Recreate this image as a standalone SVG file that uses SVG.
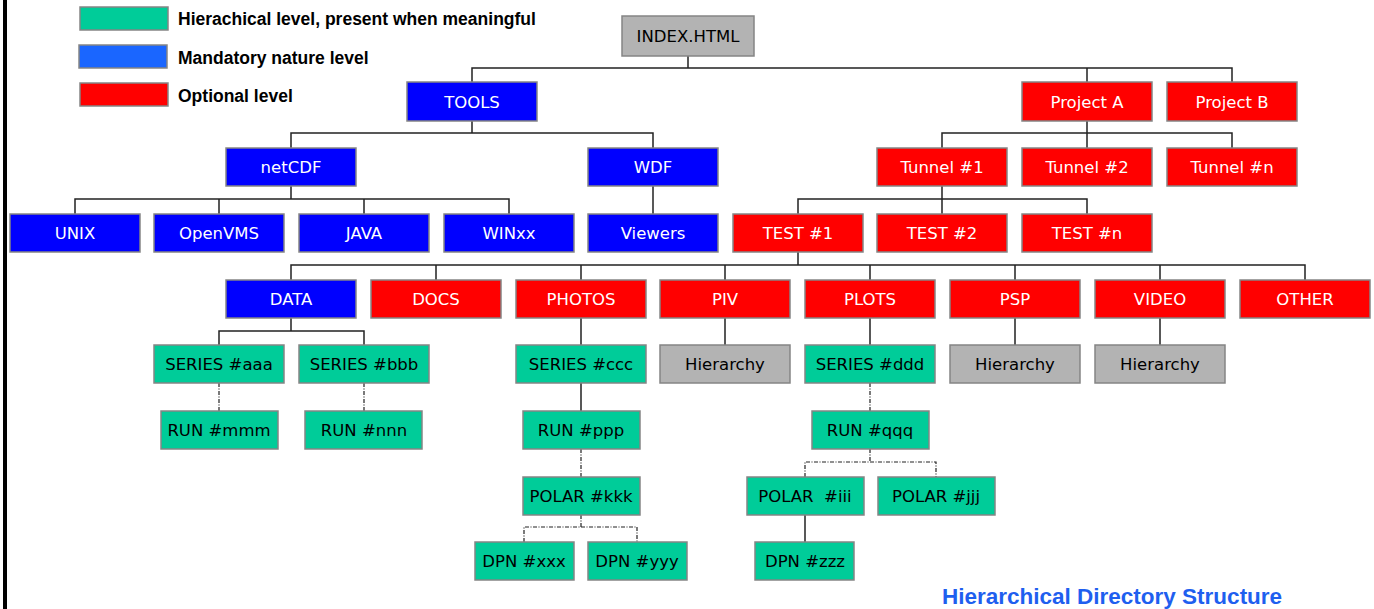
<svg xmlns="http://www.w3.org/2000/svg" width="1374" height="609" viewBox="0 0 1374 609">
<style>
.n rect{stroke:#858585;stroke-width:1.5}
.blue rect{fill:#0000FF}
.red rect{fill:#FF0000}
.green rect{fill:#00CC99}
.gray rect{fill:#B3B3B3}
.n text{font-family:"DejaVu Sans","Liberation Sans",sans-serif;font-size:16.5px;text-anchor:middle}
.blue text,.red text{fill:#FFFFFF}
.green text,.gray text{fill:#000000}
.leg{font-family:"Liberation Sans",Arial,sans-serif;font-weight:bold;font-size:17.5px;fill:#000}
#connectors path{fill:none;stroke:#222;stroke-width:1.5}
#connectors path.d{stroke-dasharray:4,1.5,1,1.5;stroke-width:1.2}
</style>
<rect x="3" y="0" width="4" height="609" fill="#000"/>
<g id="legend">
<rect x="80" y="7" width="88" height="23" fill="#00CC99" stroke="#858585" stroke-width="1.5"/>
<rect x="79" y="45" width="88" height="23" fill="#1A66FF" stroke="#858585" stroke-width="1.5"/>
<rect x="80" y="83" width="88" height="23" fill="#FF0000" stroke="#858585" stroke-width="1.5"/>
<text class="leg" x="178" y="25">Hierachical level, present when meaningful</text>
<text class="leg" x="178" y="64">Mandatory nature level</text>
<text class="leg" x="178" y="102">Optional level</text>
</g>
<g id="connectors">
<path d="M688 56V68M472 82V68H1232V82M1087 68V82"/>
<path d="M472 121V133M291 148V133H653V148"/>
<path d="M291 186V199M75 214V199H509V214M219 199V214M364 199V214"/>
<path d="M653 186V214"/>
<path d="M1087 121V133M942 148V133H1232V148M1087 133V148"/>
<path d="M942 186V199M798 214V199H1087V214M942 199V214"/>
<path d="M798 252V265M291 280V265H1305V280M436 265V280M581 265V280M725 265V280M870 265V280M1015 265V280M1160 265V280"/>
<path d="M291 318V331M219 345V331H364V345"/>
<path class="d" d="M219 383V411"/>
<path class="d" d="M364 383V411"/>
<path d="M581 318V345M581 383V411"/>
<path class="d" d="M581 449V477"/>
<path class="d" d="M581 515V527M524 542V527H637V542"/>
<path d="M725 318V345M870 318V345M1015 318V345M1160 318V345"/>
<path class="d" d="M870 383V411"/>
<path class="d" d="M870 449V462M805 477V462H936V477"/>
<path d="M805 515V542"/>
</g>
<g id="index" class="n gray"><rect x="622" y="16" width="132" height="40"/><text x="688" y="42">INDEX.HTML</text></g>
<g id="tools" class="n blue"><rect x="407" y="82" width="130" height="39"/><text x="472" y="108">TOOLS</text></g>
<g id="projectA" class="n red"><rect x="1022" y="82" width="130" height="39"/><text x="1087" y="108">Project A</text></g>
<g id="projectB" class="n red"><rect x="1167" y="82" width="130" height="39"/><text x="1232" y="108">Project B</text></g>
<g id="netcdf" class="n blue"><rect x="226" y="148" width="130" height="38"/><text x="291" y="173">netCDF</text></g>
<g id="wdf" class="n blue"><rect x="588" y="148" width="130" height="38"/><text x="653" y="173">WDF</text></g>
<g id="tunnel1" class="n red"><rect x="877" y="148" width="130" height="38"/><text x="942" y="173">Tunnel #1</text></g>
<g id="tunnel2" class="n red"><rect x="1022" y="148" width="130" height="38"/><text x="1087" y="173">Tunnel #2</text></g>
<g id="tunneln" class="n red"><rect x="1167" y="148" width="130" height="38"/><text x="1232" y="173">Tunnel #n</text></g>
<g id="unix" class="n blue"><rect x="10" y="214" width="130" height="38"/><text x="75" y="239">UNIX</text></g>
<g id="openvms" class="n blue"><rect x="154" y="214" width="130" height="38"/><text x="219" y="239">OpenVMS</text></g>
<g id="java" class="n blue"><rect x="299" y="214" width="130" height="38"/><text x="364" y="239">JAVA</text></g>
<g id="winxx" class="n blue"><rect x="444" y="214" width="130" height="38"/><text x="509" y="239">WINxx</text></g>
<g id="viewers" class="n blue"><rect x="588" y="214" width="130" height="38"/><text x="653" y="239">Viewers</text></g>
<g id="test1" class="n red"><rect x="733" y="214" width="130" height="38"/><text x="798" y="239">TEST #1</text></g>
<g id="test2" class="n red"><rect x="877" y="214" width="130" height="38"/><text x="942" y="239">TEST #2</text></g>
<g id="testn" class="n red"><rect x="1022" y="214" width="130" height="38"/><text x="1087" y="239">TEST #n</text></g>
<g id="data" class="n blue"><rect x="226" y="280" width="130" height="38"/><text x="291" y="305">DATA</text></g>
<g id="docs" class="n red"><rect x="371" y="280" width="130" height="38"/><text x="436" y="305">DOCS</text></g>
<g id="photos" class="n red"><rect x="516" y="280" width="130" height="38"/><text x="581" y="305">PHOTOS</text></g>
<g id="piv" class="n red"><rect x="660" y="280" width="130" height="38"/><text x="725" y="305">PIV</text></g>
<g id="plots" class="n red"><rect x="805" y="280" width="130" height="38"/><text x="870" y="305">PLOTS</text></g>
<g id="psp" class="n red"><rect x="950" y="280" width="130" height="38"/><text x="1015" y="305">PSP</text></g>
<g id="video" class="n red"><rect x="1095" y="280" width="130" height="38"/><text x="1160" y="305">VIDEO</text></g>
<g id="other" class="n red"><rect x="1240" y="280" width="130" height="38"/><text x="1305" y="305">OTHER</text></g>
<g id="seriesaaa" class="n green"><rect x="154" y="345" width="130" height="38"/><text x="219" y="370">SERIES #aaa</text></g>
<g id="seriesbbb" class="n green"><rect x="299" y="345" width="130" height="38"/><text x="364" y="370">SERIES #bbb</text></g>
<g id="seriesccc" class="n green"><rect x="516" y="345" width="130" height="38"/><text x="581" y="370">SERIES #ccc</text></g>
<g id="hier1" class="n gray"><rect x="660" y="345" width="130" height="38"/><text x="725" y="370">Hierarchy</text></g>
<g id="seriesddd" class="n green"><rect x="805" y="345" width="130" height="38"/><text x="870" y="370">SERIES #ddd</text></g>
<g id="hier2" class="n gray"><rect x="950" y="345" width="130" height="38"/><text x="1015" y="370">Hierarchy</text></g>
<g id="hier3" class="n gray"><rect x="1095" y="345" width="130" height="38"/><text x="1160" y="370">Hierarchy</text></g>
<g id="runmmm" class="n green"><rect x="161" y="411" width="117" height="38"/><text x="219" y="436">RUN #mmm</text></g>
<g id="runnnn" class="n green"><rect x="305" y="411" width="117" height="38"/><text x="364" y="436">RUN #nnn</text></g>
<g id="runppp" class="n green"><rect x="523" y="411" width="117" height="38"/><text x="581" y="436">RUN #ppp</text></g>
<g id="runqqq" class="n green"><rect x="812" y="411" width="117" height="38"/><text x="870" y="436">RUN #qqq</text></g>
<g id="polarkkk" class="n green"><rect x="523" y="477" width="117" height="38"/><text x="581" y="502">POLAR #kkk</text></g>
<g id="polariii" class="n green"><rect x="747" y="477" width="117" height="38"/><text x="805" y="502" xml:space="preserve">POLAR  #iii</text></g>
<g id="polarjjj" class="n green"><rect x="878" y="477" width="117" height="38"/><text x="936" y="502">POLAR #jjj</text></g>
<g id="dpnxxx" class="n green"><rect x="475" y="542" width="99" height="38"/><text x="524" y="567">DPN #xxx</text></g>
<g id="dpnyyy" class="n green"><rect x="588" y="542" width="99" height="38"/><text x="637" y="567">DPN #yyy</text></g>
<g id="dpnzzz" class="n green"><rect x="755" y="542" width="99" height="38"/><text x="805" y="567">DPN #zzz</text></g>
<text x="942" y="604" font-family="Liberation Sans,Arial,sans-serif" font-weight="bold" font-size="22.5" fill="#1F5FEF">Hierarchical Directory Structure</text>
</svg>
